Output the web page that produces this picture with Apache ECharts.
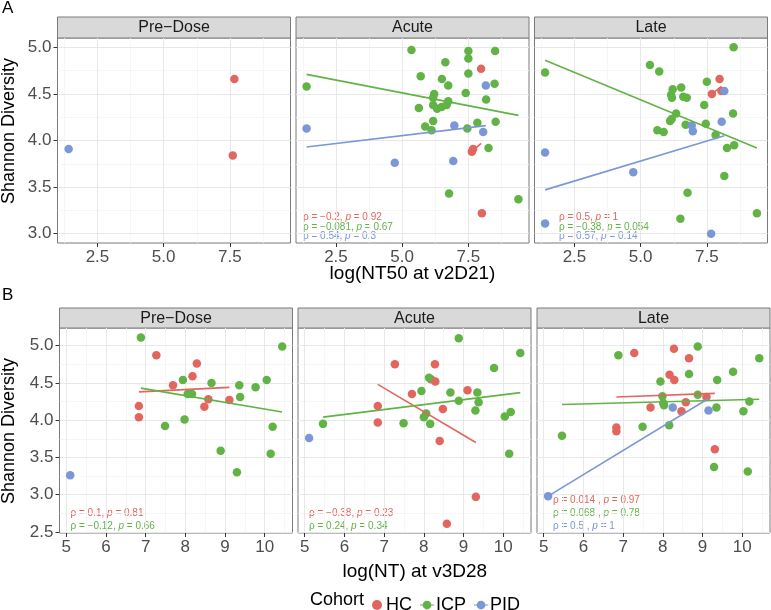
<!DOCTYPE html>
<html>
<head>
<meta charset="utf-8">
<script src="https://cdn.jsdelivr.net/npm/echarts@6/dist/echarts.min.js"></script>
<style>
html, body { margin: 0; padding: 0; background: #fff; }
#chart { width: 771px; height: 610px; }
</style>
</head>
<body>
<div id="chart"></div>
<script>
// ---- data ----
const panelNames = ['Pre−Dose', 'Acute', 'Late'];
const cohorts = ['HC', 'ICP', 'PID'];
const cohortColors = ['#E2665E', '#62B346', '#7B97D6'];

// row A: x = log(NT50 at v2D21)
const aPreHC = [[7.67, 4.66], [7.61, 3.84]];
const aPreICP = [];
const aPrePID = [[1.41, 3.91]];

const aAcuteHC = [[7.98, 4.77], [7.63, 3.88], [7.68, 3.91], [8.01, 3.22]];
const aAcuteICP = [[1.39, 4.58], [5.35, 4.97], [7.50, 4.96], [8.51, 4.96], [7.50, 4.88], [6.63, 4.84], [7.50, 4.72],
  [5.70, 4.69], [6.50, 4.66], [6.74, 4.59], [8.49, 4.61], [7.40, 4.51], [6.21, 4.50], [6.17, 4.46], [8.17, 4.44],
  [6.74, 4.42], [6.17, 4.38], [5.63, 4.35], [6.32, 4.34], [6.49, 4.36], [6.68, 4.38], [6.17, 4.21], [5.87, 4.15],
  [6.11, 4.11], [7.46, 4.13], [7.84, 4.19], [8.53, 4.20], [8.26, 3.92], [6.77, 3.43], [9.39, 3.37]];
const aAcutePID = [[1.39, 4.13], [8.16, 4.59], [6.97, 4.16], [8.06, 4.09], [4.72, 3.76], [6.93, 3.78]];

const aLateHC = [[7.98, 4.66], [7.69, 4.50], [8.05, 4.53]];
const aLateICP = [[1.39, 4.73], [8.51, 5.00], [5.35, 4.81], [5.70, 4.74], [7.50, 4.63], [6.21, 4.55], [6.53, 4.57],
  [6.15, 4.49], [6.18, 4.46], [6.61, 4.47], [6.74, 4.46], [7.40, 4.38], [8.49, 4.29], [6.34, 4.29], [6.11, 4.21],
  [6.17, 4.23], [6.70, 4.17], [7.46, 4.18], [5.63, 4.11], [5.87, 4.09], [7.83, 4.06], [8.26, 3.92], [8.53, 3.95],
  [8.16, 3.62], [6.77, 3.44], [6.50, 3.16], [9.39, 3.22]];
const aLatePID = [[1.39, 3.87], [1.39, 3.11], [4.72, 3.66], [6.93, 4.16], [6.97, 4.10], [8.16, 4.53], [8.06, 4.20], [7.66, 3.00]];

// row B: x = log(NT) at v3D28
const bPreHC = [[7.27, 4.87], [8.29, 4.76], [8.18, 4.59], [7.69, 4.47], [8.58, 4.28], [8.48, 4.18], [9.11, 4.27],
  [6.83, 4.19], [6.83, 4.04]];
const bPreICP = [[6.88, 5.11], [10.44, 4.99], [7.94, 4.54], [8.66, 4.50], [9.36, 4.47], [9.77, 4.44], [10.05, 4.54],
  [9.38, 4.31], [8.06, 4.35], [8.17, 4.35], [7.49, 3.92], [7.98, 4.01], [10.20, 3.91], [10.15, 3.55], [8.89, 3.59],
  [9.30, 3.30]];
const bPrePID = [[5.10, 3.26]];

const bAcuteHC = [[7.27, 4.75], [8.28, 4.75], [8.18, 4.55], [8.29, 4.52], [7.70, 4.35], [9.10, 4.40], [8.48, 4.15],
  [6.84, 4.19], [6.84, 3.97], [8.40, 3.72], [9.31, 2.97], [8.58, 2.61]];
const bAcuteICP = [[8.88, 5.10], [10.43, 4.90], [9.77, 4.70], [8.13, 4.57], [7.94, 4.39], [8.67, 4.37], [9.35, 4.37],
  [8.88, 4.26], [9.38, 4.24], [9.30, 4.13], [8.06, 4.09], [8.00, 4.04], [8.16, 3.95], [7.49, 3.96], [5.46, 3.95],
  [10.04, 4.05], [10.19, 4.11], [10.15, 3.55]];
const bAcutePID = [[5.11, 3.76]];

const bLateHC = [[7.28, 4.90], [8.28, 4.96], [8.66, 4.83], [8.17, 4.61], [8.29, 4.54], [9.10, 4.31], [8.58, 4.24],
  [7.69, 4.17], [8.47, 4.12], [6.83, 3.90], [6.83, 3.85], [9.31, 3.61]];
const bLateICP = [[6.88, 4.87], [8.88, 4.99], [10.43, 4.83], [9.77, 4.65], [9.37, 4.54], [8.66, 4.62], [7.94, 4.52],
  [7.99, 4.32], [8.88, 4.34], [8.03, 4.20], [8.01, 4.23], [9.35, 4.17], [10.18, 4.25], [10.03, 4.12], [8.16, 3.93],
  [7.49, 3.91], [5.46, 3.79], [9.29, 3.37], [10.14, 3.31]];
const bLatePID = [[5.11, 2.98], [8.25, 4.17], [9.15, 4.13]];

// fitted lines (end points) per cohort, null = none
const aPreFits = [null, null, null];
const aAcuteFits = [[[7.63, 3.88], [7.98, 3.97]], [[1.39, 4.71], [9.39, 4.27]], [[1.39, 3.93], [8.16, 4.16]]];
const aLateFits = [[[7.69, 4.50], [8.05, 4.58]], [[1.39, 4.86], [9.39, 3.92]], [[1.39, 3.47], [8.16, 4.05]]];
const bPreFits = [[[6.83, 4.38], [9.11, 4.44]], [[6.88, 4.43], [10.44, 4.11]], null];
const bAcuteFits = [[[6.84, 4.48], [9.31, 3.70]], [[5.46, 4.04], [10.43, 4.37]], null];
const bLateFits = [[[6.83, 4.31], [9.31, 4.36]], [[5.46, 4.21], [10.43, 4.28]], [[5.11, 2.98], [9.15, 4.29]]];

// spearman rho / p per cohort
const aPreStats = [null, null, null];
const aAcuteStats = [['−0.2', '0.92'], ['−0.081', '0.67'], ['0.54', '0.3']];
const aLateStats = [['0.5', '1'], ['−0.38', '0.054'], ['0.57', '0.14']];
const bPreStats = [['0.1', '0.81'], ['−0.12', '0.66'], null];
const bAcuteStats = [['−0.38', '0.23'], ['0.24', '0.34'], null];
const bLateStats = [['0.014', '0.97'], ['0.068', '0.78'], ['0.5', '1']];

// axes
const aXRange = [0.99, 9.79];
const aYRange = [2.9, 5.1];
const aXTicks = [2.5, 5, 7.5];
const aXMinor = [1.25, 3.75, 6.25, 8.75];
const aYTicks = [3, 3.5, 4, 4.5, 5];
const aYMinor = [3.25, 3.75, 4.25, 4.75];
const bXRange = [4.83, 10.7];
const bYRange = [2.485, 5.237];
const bXTicks = [5, 6, 7, 8, 9, 10];
const bXMinor = [5.5, 6.5, 7.5, 8.5, 9.5, 10.5];
const bYTicks = [2.5, 3, 3.5, 4, 4.5, 5];
const bYMinor = [2.75, 3.25, 3.75, 4.25, 4.75];

// ---- layout ----
const FONT = '"Liberation Sans", Arial, sans-serif';
const plotW = 233, plotH = 205;
const rows = [
  { top: 38, stripH: 21, lefts: [57.5, 296, 534.5], xRange: aXRange, yRange: aYRange,
    xTicks: aXTicks, xMinor: aXMinor, yTicks: aYTicks, yMinor: aYMinor, xFmt: v => v.toFixed(1),
    xTitle: 'log(NT50 at v2D21)', xTitleY: 274, yTitleY: 131, tag: 'A', tagY: 8,
    statGap: 9.2, statBottom: 7, statLeft: [0, 7, 24.5], sep: [', ', ', ', ', '],
    pts: [[aPreHC, aPreICP, aPrePID], [aAcuteHC, aAcuteICP, aAcutePID], [aLateHC, aLateICP, aLatePID]],
    fits: [aPreFits, aAcuteFits, aLateFits], stats: [aPreStats, aAcuteStats, aLateStats] },
  { top: 328, stripH: 20, lefts: [59.5, 298, 537], xRange: bXRange, yRange: bYRange,
    xTicks: bXTicks, xMinor: bXMinor, yTicks: bYTicks, yMinor: bYMinor, xFmt: v => String(v),
    xTitle: 'log(NT) at v3D28', xTitleY: 572, yTitleY: 431, tag: 'B', tagY: 295,
    statGap: 13, statBottom: 6.8, statLeft: [11, 11, 16], sep: [', ', ', ', ' , '],
    pts: [[bPreHC, bPreICP, bPrePID], [bAcuteHC, bAcuteICP, bAcutePID], [bLateHC, bLateICP, bLatePID]],
    fits: [bPreFits, bAcuteFits, bLateFits], stats: [bPreStats, bAcuteStats, bLateStats] }
];

let grids = [], xAxes = [], yAxes = [], series = [], graphics = [];
let idx = 0;
rows.forEach(function(row) {
  for (let c = 0; c < 3; c++) {
    let left = row.lefts[c];
    grids.push({ left: left, top: row.top, width: plotW, height: plotH, show: true,
      borderColor: '#7a7a7a', borderWidth: 1, backgroundColor: '#fff', containLabel: false });
    xAxes.push({ type: 'value', gridIndex: idx, min: row.xRange[0], max: row.xRange[1],
      axisLine: { show: false }, splitLine: { show: false },
      axisTick: { show: true, length: 4, lineStyle: { color: '#333' }, customValues: row.xTicks },
      axisLabel: { customValues: row.xTicks, formatter: row.xFmt, color: '#4d4d4d', fontSize: 17,
        fontFamily: FONT, margin: 6 } });
    yAxes.push({ type: 'value', gridIndex: idx, min: row.yRange[0], max: row.yRange[1],
      axisLine: { show: false }, splitLine: { show: false },
      axisTick: { show: c === 0, length: 4, lineStyle: { color: '#333' }, customValues: row.yTicks },
      axisLabel: { show: c === 0, customValues: row.yTicks, formatter: v => v.toFixed(1), color: '#4d4d4d',
        fontSize: 17, fontFamily: FONT, margin: 6 } });

    // panel grid lines
    let ml = [];
    row.xMinor.forEach(v => ml.push({ xAxis: v, lineStyle: { color: '#f4f4f4', width: 0.8, type: 'solid' } }));
    row.yMinor.forEach(v => ml.push({ yAxis: v, lineStyle: { color: '#f4f4f4', width: 0.8, type: 'solid' } }));
    row.xTicks.forEach(v => ml.push({ xAxis: v, lineStyle: { color: '#e8e8e8', width: 1, type: 'solid' } }));
    row.yTicks.forEach(v => ml.push({ yAxis: v, lineStyle: { color: '#e8e8e8', width: 1, type: 'solid' } }));
    series.push({ type: 'line', xAxisIndex: idx, yAxisIndex: idx, data: [], z: 0, silent: true,
      markLine: { z: 0, silent: true, symbol: 'none', label: { show: false }, animation: false, data: ml } });

    // points
    for (let k = 0; k < 3; k++) {
      series.push({ name: cohorts[k], type: 'scatter', xAxisIndex: idx, yAxisIndex: idx,
        data: row.pts[c][k], symbolSize: 8.5, z: 2 + k,
        itemStyle: { color: cohortColors[k], opacity: 1 }, animation: false });
    }
    // fitted lines
    for (let k = 0; k < 3; k++) {
      let f = row.fits[c][k];
      if (!f) continue;
      series.push({ name: cohorts[k] + ' fit', type: 'line', xAxisIndex: idx, yAxisIndex: idx,
        data: f, showSymbol: false, symbol: 'none', z: 6,
        lineStyle: { color: cohortColors[k], width: 1.6 }, animation: false, silent: true });
    }

    // strip
    graphics.push({ type: 'rect', shape: { x: left, y: row.top - row.stripH, width: plotW, height: row.stripH },
      style: { fill: '#d9d9d9', stroke: '#7a7a7a', lineWidth: 1 } });
    graphics.push({ type: 'text', x: left + plotW / 2, y: row.top - row.stripH / 2 + 0.5,
      style: { text: panelNames[c], fill: '#1a1a1a', font: '16px ' + FONT, align: 'center', verticalAlign: 'middle' } });

    // stats text
    let st = row.stats[c].filter(s => s);
    let n = 0;
    row.stats[c].forEach(function(s, k) {
      if (!s) return;
      let y = row.top + plotH - row.statBottom - (st.length - 1 - n) * row.statGap;
      n++;
      graphics.push({ type: 'text', x: left + row.statLeft[c], y: y,
        style: { text: '{a|ρ = ' + s[0] + row.sep[c] + '}{b|p}{a| = ' + s[1] + '}',
          verticalAlign: 'middle', align: 'left',
          rich: { a: { fill: cohortColors[k], fontSize: 10, fontFamily: FONT },
                  b: { fill: cohortColors[k], fontSize: 10, fontFamily: FONT, fontStyle: 'italic' } } } });
    });
    idx++;
  }
  // titles
  graphics.push({ type: 'text', x: (row.lefts[0] + row.lefts[2] + plotW) / 2, y: row.xTitleY,
    style: { text: row.xTitle, fill: '#000', font: '19px ' + FONT, align: 'center', verticalAlign: 'middle' } });
  graphics.push({ type: 'text', x: 9, y: row.yTitleY, rotation: Math.PI / 2,
    style: { text: 'Shannon Diversity', fill: '#000', font: '18px ' + FONT, align: 'center', verticalAlign: 'middle' } });
  graphics.push({ type: 'text', x: 2, y: row.tagY,
    style: { text: row.tag, fill: '#000', font: '17px ' + FONT, align: 'left', verticalAlign: 'middle' } });
});

graphics.push({ type: 'text', x: 310, y: 600,
  style: { text: 'Cohort', fill: '#000', font: '18px ' + FONT, align: 'left', verticalAlign: 'middle' } });

const keyLine = 'path://M0,4.4 H16 V5.6 H0 Z M3,5 A5,5 0 1,1 13,5 A5,5 0 1,1 3,5 Z';
const chart = echarts.init(document.getElementById('chart'), null, { renderer: 'canvas' });
chart.setOption({
  animation: false,
  backgroundColor: '#fff',
  grid: grids,
  xAxis: xAxes,
  yAxis: yAxes,
  legend: {
    data: [{ name: 'HC', icon: 'circle' }, { name: 'ICP', icon: keyLine }, { name: 'PID', icon: keyLine }],
    left: 367, top: 591, itemWidth: 14, itemHeight: 10, itemGap: 8,
    selectedMode: false, textStyle: { fontSize: 18, fontFamily: FONT, color: '#000', padding: [0, 0, 0, -3] }
  },
  series: series,
  graphic: graphics
});
</script>
</body>
</html>
